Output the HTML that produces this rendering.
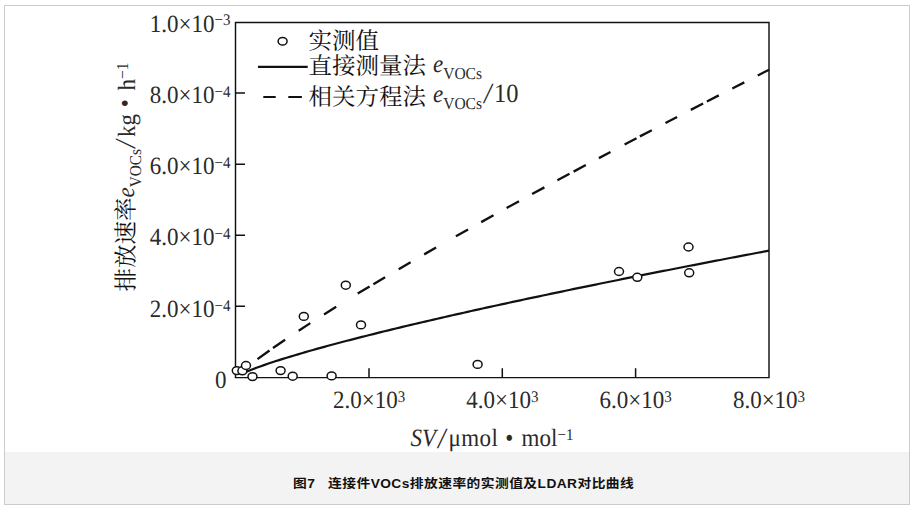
<!DOCTYPE html>
<html><head><meta charset="utf-8"><style>
html,body{margin:0;padding:0;background:#fff;}
body{width:916px;height:511px;overflow:hidden;position:relative;}
#frame{position:absolute;left:4px;top:5px;width:904px;height:498px;border:1px solid #cbcbcb;}
#cap{position:absolute;left:5px;top:452px;width:904px;height:52px;background:#f3f3f3;}
#captxt{position:absolute;left:293px;top:473.2px;font:bold 12.5px "Liberation Sans","Noto Sans CJK SC",sans-serif;color:#111;white-space:pre;transform-origin:0 0;transform:scaleX(1.1);letter-spacing:0.4px;}
svg{position:absolute;left:0;top:0;text-rendering:geometricPrecision;}
.serif{font-family:"Liberation Serif",serif;font-size:23px;fill:#2a2a2a;}
.cjk{font-family:"Liberation Serif","Noto Serif CJK SC",serif;font-size:23.5px;fill:#111;}
</style></head><body>
<div id="frame"></div>
<div id="cap"></div>
<div id="captxt">图7   连接件VOCs排放速率的实测值及LDAR对比曲线</div>
<svg width="916" height="511" viewBox="0 0 916 511">
<g fill="none" stroke="#111" stroke-width="1.5">
<path d="M235.5,22.45 H769 V377.6 H235.5 Z" stroke-width="1.45"/>
<path d="M235.5,306.30 H245 M235.5,235.20 H245 M235.5,164.20 H245 M235.5,93.10 H245 M369.00,377.5 V368.3 M502.30,377.5 V368.3 M635.60,377.5 V368.3"/>
</g>
<path d="M245.13,372.32 L248.90,370.73 L252.67,369.23 L256.44,367.80 L260.21,366.43 L263.98,365.09 L267.74,363.80 L271.51,362.54 L275.28,361.30 L279.05,360.09 L282.82,358.90 L286.59,357.73 L290.36,356.58 L294.13,355.45 L297.89,354.33 L301.66,353.22 L305.43,352.13 L309.20,351.05 L312.97,349.98 L316.74,348.93 L320.51,347.88 L324.28,346.84 L328.05,345.81 L331.81,344.80 L335.58,343.78 L339.35,342.78 L343.12,341.79 L346.89,340.80 L350.66,339.82 L354.43,338.84 L358.20,337.88 L361.97,336.91 L365.73,335.96 L369.50,335.01 L373.27,334.06 L377.04,333.13 L380.81,332.19 L384.58,331.26 L388.35,330.34 L392.12,329.42 L395.88,328.51 L399.65,327.60 L403.42,326.69 L407.19,325.79 L410.96,324.89 L414.73,324.00 L418.50,323.11 L422.27,322.23 L426.04,321.34 L429.80,320.47 L433.57,319.59 L437.34,318.72 L441.11,317.85 L444.88,316.99 L448.65,316.13 L452.42,315.27 L456.19,314.42 L459.95,313.57 L463.72,312.72 L467.49,311.87 L471.26,311.03 L475.03,310.19 L478.80,309.35 L482.57,308.52 L486.34,307.69 L490.11,306.86 L493.87,306.03 L497.64,305.21 L501.41,304.39 L505.18,303.57 L508.95,302.75 L512.72,301.94 L516.49,301.12 L520.26,300.31 L524.03,299.51 L527.79,298.70 L531.56,297.90 L535.33,297.10 L539.10,296.30 L542.87,295.50 L546.64,294.71 L550.41,293.91 L554.18,293.12 L557.94,292.34 L561.71,291.55 L565.48,290.76 L569.25,289.98 L573.02,289.20 L576.79,288.42 L580.56,287.64 L584.33,286.87 L588.10,286.09 L591.86,285.32 L595.63,284.55 L599.40,283.78 L603.17,283.01 L606.94,282.25 L610.71,281.48 L614.48,280.72 L618.25,279.96 L622.02,279.20 L625.78,278.44 L629.55,277.69 L633.32,276.93 L637.09,276.18 L640.86,275.43 L644.63,274.68 L648.40,273.93 L652.17,273.18 L655.93,272.44 L659.70,271.69 L663.47,270.95 L667.24,270.21 L671.01,269.47 L674.78,268.73 L678.55,267.99 L682.32,267.25 L686.09,266.52 L689.85,265.79 L693.62,265.05 L697.39,264.32 L701.16,263.59 L704.93,262.86 L708.70,262.14 L712.47,261.41 L716.24,260.68 L720.01,259.96 L723.77,259.24 L727.54,258.52 L731.31,257.79 L735.08,257.08 L738.85,256.36 L742.62,255.64 L746.39,254.92 L750.16,254.21 L753.92,253.50 L757.69,252.78 L761.46,252.07 L765.23,251.36 L769.00,250.65" fill="none" stroke="#111" stroke-width="2.2"/>
<path d="M257.50,359.15 L269.50,350.46 M273.00,348.00 L285.10,339.70 M298.70,330.65 L310.30,323.12 M324.00,314.40 L336.20,306.78 M357.70,293.60 L369.60,286.42 M373.40,284.15 L385.10,277.19 M398.70,269.19 L410.60,262.25 M424.20,254.39 L436.10,247.56 M455.90,236.32 L468.10,229.45 M481.20,222.12 L493.50,215.28 M506.60,208.04 L519.00,201.22 M532.10,194.06 L544.40,187.37 M557.40,180.33 L569.50,173.81 M573.60,171.61 L585.80,165.08 M598.90,158.09 L610.50,151.93 M624.60,144.47 L636.50,138.20 M639.90,136.41 L651.80,130.17 M665.50,123.01 L677.10,116.97 M690.80,109.86 L703.10,103.50 M706.90,101.54 L718.80,95.40 M732.30,88.47 L744.30,82.33 M757.80,75.44 L769.10,69.69" fill="none" stroke="#111" stroke-width="2.35"/>
<g fill="#fff" stroke="#111" stroke-width="1.5">
<ellipse cx="236.8" cy="370.6" rx="4.5" ry="3.95"/>
<ellipse cx="242.4" cy="370.8" rx="4.5" ry="3.95"/>
<ellipse cx="246.0" cy="365.5" rx="4.5" ry="3.95"/>
<ellipse cx="252.5" cy="376.6" rx="4.5" ry="3.95"/>
<ellipse cx="280.6" cy="370.6" rx="4.5" ry="3.95"/>
<ellipse cx="292.7" cy="376.2" rx="4.5" ry="3.95"/>
<ellipse cx="303.8" cy="316.4" rx="4.5" ry="3.95"/>
<ellipse cx="331.6" cy="375.9" rx="4.5" ry="3.95"/>
<ellipse cx="345.8" cy="285.2" rx="4.5" ry="3.95"/>
<ellipse cx="361.0" cy="324.9" rx="4.5" ry="3.95"/>
<ellipse cx="477.6" cy="364.4" rx="4.5" ry="3.95"/>
<ellipse cx="619.0" cy="271.5" rx="4.5" ry="3.95"/>
<ellipse cx="637.3" cy="277.3" rx="4.5" ry="3.95"/>
<ellipse cx="688.5" cy="247.0" rx="4.5" ry="3.95"/>
<ellipse cx="689.2" cy="272.8" rx="4.5" ry="3.95"/>
<ellipse cx="282.6" cy="41.25" rx="4.5" ry="3.85"/>
</g>
<path d="M258,66.8 H307.7 M263.3,97 H275.7 M288.3,97 H301.9" stroke="#111" stroke-width="2.2" fill="none"/>
<g class="serif">
<text x="230.5" y="317.3" text-anchor="end" transform="matrix(1,0,0,1.080,0,-25.384)">2.0×10<tspan font-size="15" dy="-5.8">−4</tspan></text>
<text x="230.5" y="245.3" text-anchor="end" transform="matrix(1,0,0,1.080,0,-19.624)">4.0×10<tspan font-size="15" dy="-5.8">−4</tspan></text>
<text x="230.5" y="174.3" text-anchor="end" transform="matrix(1,0,0,1.080,0,-13.944)">6.0×10<tspan font-size="15" dy="-5.8">−4</tspan></text>
<text x="230.5" y="102.8" text-anchor="end" transform="matrix(1,0,0,1.080,0,-8.224)">8.0×10<tspan font-size="15" dy="-5.8">−4</tspan></text>
<text x="230.5" y="31.6" text-anchor="end" transform="matrix(1,0,0,1.080,0,-2.528)">1.0×10<tspan font-size="15" dy="-5.8">−3</tspan></text>

<text x="226.5" y="387.7" text-anchor="end" transform="matrix(1,0,0,1.080,0,-31.016)">0</text>
<text x="369.1" y="408.3" text-anchor="middle" transform="matrix(1,0,0,1.080,0,-32.664)">2.0×10<tspan font-size="15" dy="-6.2">3</tspan></text>
<text x="502.4" y="408.3" text-anchor="middle" transform="matrix(1,0,0,1.080,0,-32.664)">4.0×10<tspan font-size="15" dy="-6.2">3</tspan></text>
<text x="635.7" y="408.3" text-anchor="middle" transform="matrix(1,0,0,1.080,0,-32.664)">6.0×10<tspan font-size="15" dy="-6.2">3</tspan></text>
<text x="769.0" y="408.3" text-anchor="middle" transform="matrix(1,0,0,1.080,0,-32.664)">8.0×10<tspan font-size="15" dy="-6.2">3</tspan></text>

<text y="446" transform="matrix(1,0,0,1.080,0,-35.680)"><tspan x="410.5" font-style="italic">SV</tspan><tspan x="438" font-style="italic" font-size="27" dy="1.5">/</tspan><tspan x="448.5" dy="-1.5" letter-spacing="0.4">μmol</tspan><tspan x="505.2">•</tspan><tspan x="521.5">mol</tspan><tspan font-size="15" dy="-5.8" x="557.5">−1</tspan></text>
<g transform="matrix(1,0,0,1.080,0,-5.760)"><text y="72"><tspan x="433" font-style="italic">e</tspan><tspan font-size="15.5" dy="6.5">VOCs</tspan></text></g>
<g transform="matrix(1,0,0,1.080,0,-8.136)"><text y="101.7"><tspan x="433" font-style="italic">e</tspan><tspan font-size="15.5" dy="6.3">VOCs</tspan><tspan x="484" dy="-4.8" font-style="italic" font-size="27">/</tspan><tspan x="494" dy="-1.5" font-size="24.5">10</tspan></text></g>
<g transform="translate(133.5,290.5) rotate(-90)"><text y="0" transform="matrix(1,0,0,1.080,0,-0.000)"><tspan x="93" font-style="italic">e</tspan><tspan font-size="15.3" dy="6.5">VOCs</tspan><tspan dy="-5" x="142.8" font-style="italic" font-size="27">/</tspan><tspan dy="-1.5"></tspan><tspan x="153.5">kg</tspan><tspan x="183.2" dy="-1.6">•</tspan><tspan x="200" dy="1.6">h</tspan><tspan font-size="15.5" dy="-6.5">−1</tspan></text></g>
</g>
<g class="cjk">
<text x="308.6" y="49.2">实测值</text>
<text x="308.6" y="73.7">直接测量法</text>
<text x="308.6" y="104.7">相关方程法</text>
<text transform="translate(133.5,290.5) rotate(-90)" x="-1" y="0">排放速率</text>
</g>
</svg>
</body></html>
